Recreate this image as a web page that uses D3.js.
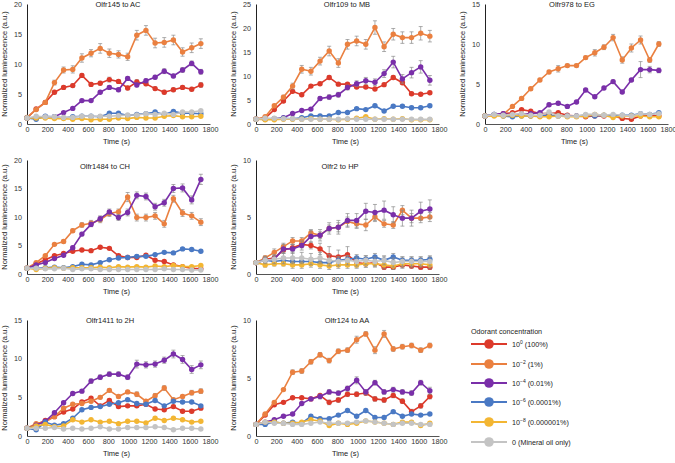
<!DOCTYPE html>
<html><head><meta charset="utf-8">
<script src="https://cdn.jsdelivr.net/npm/d3@7/dist/d3.min.js"></script>
<style>
html,body{margin:0;padding:0;background:#fff;}
svg{display:block;font-family:"Liberation Sans",Arial,Helvetica,sans-serif;}
</style></head>
<body>
<script>
// ---------- DATA ----------
const times = [0,90,180,270,360,450,540,630,720,810,900,990,1080,1170,1260,1350,1440,1530,1620,1710];
const xTickValues = [0,200,400,600,800,1000,1200,1400,1600,1800];
const panelTitles = ["Olfr145 to AC","Olfr109 to MB","Olfr978 to EG","Olfr1484 to CH","Olfr2 to HP","Olfr1411 to 2H","Olfr124 to AA"];
const panelYMax = [20,25,15,20,10,15,10];
const yTickStep = 5;
const seriesExp = ["0","\u22122","\u22124","\u22126","\u22128",null];
const seriesLabel = [" (100%)"," (1%)"," (0.01%)"," (0.0001%)"," (0.000001%)","0 (Mineral oil only)"];
const legendTitle = "Odorant concentration";
const xTitle = "Time (s)";
const yTitle = "Normalized luminescence (a.u.)";

// series order: 10^0, 10^-2, 10^-4, 10^-6, 10^-8, mineral oil
const acValues = [
 [1,2.5,3.6,5.3,6.1,6.4,8.1,6.6,6.8,7.4,7.1,6.0,7.0,6.7,5.9,5.3,5.7,6.1,5.8,6.5],
 [1.1,2.4,3.6,6.9,9.0,9.1,11.0,11.8,12.6,11.8,11.6,11.2,14.8,15.6,13.5,13.6,14.0,12.0,12.7,13.4],
 [1,1.0,1.2,1.2,1.9,2.6,3.9,3.9,5.3,6.1,5.7,7.6,6.5,7.2,7.8,8.8,8.0,9.0,10.1,8.7],
 [1,0.8,1.3,1.2,1.0,1.2,1.3,1.3,1.2,1.8,1.8,1.4,1.6,1.7,2.0,1.6,2.1,1.8,1.8,1.7],
 [1,1.0,1.0,0.9,0.9,0.8,0.9,0.7,0.8,0.8,1.0,0.9,1.1,1.0,1.0,1.3,1.4,1.2,1.2,1.3],
 [1,1.3,1.2,1.2,1.1,1.1,1.3,1.3,1.3,1.3,1.4,1.5,1.5,1.7,1.6,1.8,1.6,2.0,2.0,2.2]
];
const acErrors = [
 [0,0.2,0.2,0.3,0.3,0.3,0.3,0.3,0.3,0.4,0.3,0.3,0.4,0.3,0.3,0.3,0.3,0.3,0.3,0.4],
 [0,0.3,0.3,0.4,0.5,0.6,0.7,0.6,0.8,0.7,0.6,0.6,0.8,0.8,0.8,0.8,0.8,0.7,0.8,0.8],
 [0,0.1,0.1,0.1,0.2,0.2,0.2,0.2,0.2,0.3,0.3,0.3,0.3,0.3,0.3,0.4,0.3,0.4,0.4,0.4],
 [0,0.1,0.1,0.1,0.1,0.1,0.1,0.1,0.1,0.1,0.1,0.1,0.1,0.1,0.1,0.1,0.1,0.1,0.1,0.1],
 [0,0.1,0.1,0.1,0.1,0.1,0.1,0.1,0.1,0.1,0.1,0.1,0.1,0.1,0.1,0.1,0.1,0.1,0.1,0.1],
 [0,0.1,0.1,0.1,0.1,0.1,0.1,0.1,0.1,0.1,0.1,0.1,0.1,0.1,0.1,0.1,0.1,0.1,0.1,0.2]
];
const mbValues = [
 [1,1.2,3.0,4.8,6.8,6.1,7.9,8.4,9.7,8.3,8.3,7.7,7.7,7.3,8.2,9.7,8.6,6.3,6.2,6.5],
 [1,1.5,3.8,5.6,7.9,11.4,11.0,13.1,15.2,12.7,16.6,17.3,16.6,20.1,16.1,18.7,18.0,18.0,18.9,18.3],
 [1,1.0,1.1,1.3,2.2,2.8,3.1,5.3,5.6,6.1,7.6,8.4,9.0,8.7,10.5,12.9,9.4,10.7,11.9,9.1],
 [1,1.0,1.1,1.2,1.1,1.3,1.7,1.7,1.7,2.4,2.4,3.2,3.0,3.8,2.7,3.7,3.7,3.4,3.4,3.8],
 [1,0.9,0.9,1.0,1.0,1.0,1.1,1.0,1.0,0.9,1.0,1.2,1.5,1.0,1.1,1.0,1.1,0.9,0.9,0.9],
 [1,1.2,1.2,1.1,1.1,1.0,1.0,1.0,1.0,1.0,1.1,1.0,1.0,1.0,1.0,1.0,1.0,1.0,1.0,1.0]
];
const mbErrors = [
 [0,0.1,0.2,0.3,0.3,0.3,0.3,0.3,0.4,0.3,0.3,0.3,0.3,0.3,0.3,0.4,0.3,0.3,0.3,0.3],
 [0,0.2,0.3,0.4,0.6,0.8,0.8,0.8,1.0,0.9,1.0,1.0,1.0,1.4,1.0,1.2,1.2,1.2,1.4,1.2],
 [0,0.1,0.1,0.1,0.2,0.2,0.3,0.4,0.5,0.5,0.5,0.6,0.7,0.7,0.8,1.2,0.9,1.1,1.3,1.0],
 [0,0.1,0.1,0.1,0.1,0.1,0.1,0.1,0.2,0.2,0.2,0.2,0.2,0.3,0.2,0.3,0.3,0.3,0.3,0.3],
 [0,0.1,0.1,0.1,0.1,0.1,0.1,0.1,0.1,0.1,0.1,0.1,0.2,0.1,0.1,0.1,0.1,0.1,0.1,0.1],
 [0,0.1,0.1,0.1,0.1,0.1,0.1,0.1,0.1,0.1,0.1,0.1,0.1,0.1,0.1,0.1,0.1,0.1,0.1,0.1]
];
const egValues = [
 [1,1.1,1.3,1.4,1.8,1.6,1.3,1.3,1.4,1.1,1.0,0.9,1.0,1.0,1.0,0.7,0.6,1.0,1.1,1.0],
 [1,1.1,1.2,2.2,3.2,4.4,5.5,6.5,6.9,7.3,7.3,8.3,8.9,9.6,10.8,8.0,9.5,10.5,8.0,10.0],
 [1,1.2,1.3,1.1,1.2,1.3,1.4,2.4,2.6,2.2,2.75,4.25,3.4,4.5,5.3,4.0,5.5,6.8,6.8,6.7],
 [1,1.2,1.0,0.9,1.0,1.0,1.0,1.1,1.0,1.0,1.0,1.1,1.0,1.1,1.0,1.1,1.1,1.3,1.2,1.4],
 [1,1.0,1.0,1.1,1.0,1.0,0.9,0.9,1.0,0.9,0.9,1.0,1.2,1.1,0.8,1.0,1.0,1.0,0.9,0.9],
 [1,1.2,1.1,1.2,1.3,1.1,1.1,1.5,1.0,1.0,1.0,1.2,1.2,1.1,1.2,1.1,1.0,1.3,1.2,1.3]
];
const egErrors = [
 [0,0.1,0.1,0.1,0.1,0.1,0.1,0.1,0.1,0.1,0.1,0.1,0.1,0.1,0.1,0.1,0.1,0.1,0.1,0.1],
 [0,0.1,0.1,0.1,0.2,0.2,0.2,0.2,0.4,0.2,0.2,0.2,0.4,0.3,0.4,0.4,0.5,0.5,0.3,0.3],
 [0,0.1,0.1,0.1,0.1,0.1,0.1,0.2,0.2,0.2,0.2,0.2,0.2,0.2,0.2,0.2,0.2,1.0,0.4,0.3],
 [0,0.1,0.1,0.1,0.1,0.1,0.1,0.1,0.1,0.1,0.1,0.1,0.1,0.1,0.1,0.1,0.1,0.1,0.1,0.1],
 [0,0.1,0.1,0.1,0.1,0.1,0.1,0.1,0.1,0.1,0.1,0.1,0.1,0.1,0.1,0.1,0.1,0.1,0.1,0.1],
 [0,0.1,0.1,0.1,0.1,0.1,0.1,0.1,0.1,0.1,0.1,0.1,0.1,0.1,0.1,0.1,0.1,0.1,0.1,0.1]
];
const chValues = [
 [1,1.8,2.5,3.2,3.6,4.0,4.2,4.1,4.7,4.5,3.2,2.9,2.9,3.3,2.4,2.2,1.6,1.3,1.0,0.9],
 [1,2.0,3.2,5.2,5.7,7.6,8.6,8.9,9.5,10.6,10.9,13.5,9.9,9.9,10.2,8.8,13.2,10.7,10.2,9.1],
 [1,1.6,2.0,2.7,3.3,4.6,7.0,8.7,9.7,10.9,9.9,10.8,13.8,13.6,11.8,12.5,15.0,15.1,13.0,16.6],
 [1,1.0,1.1,1.2,1.1,1.3,1.7,1.6,2.0,2.5,2.8,2.9,3.1,3.1,3.4,3.8,3.7,4.4,4.3,4.0],
 [1,0.8,1.0,1.1,1.0,1.1,1.1,1.1,1.2,1.1,1.3,1.2,1.3,1.2,1.4,1.3,1.5,1.3,1.3,1.5],
 [1,1.0,0.9,0.9,1.0,0.8,0.9,0.9,0.8,0.8,0.8,0.8,0.8,0.8,0.8,0.9,0.8,0.8,0.7,0.7]
];
const chErrors = [
 [0,0.1,0.2,0.2,0.2,0.2,0.2,0.2,0.2,0.2,0.2,0.2,0.2,0.2,0.2,0.2,0.2,0.1,0.1,0.1],
 [0,0.2,0.2,0.2,0.3,0.3,0.4,0.5,0.5,0.5,0.5,0.8,0.6,0.6,0.6,0.6,0.6,0.6,0.6,0.6],
 [0,0.1,0.2,0.2,0.2,0.3,0.3,0.4,0.5,0.5,0.5,0.6,0.6,0.6,0.6,0.6,0.7,0.7,0.7,0.9],
 [0,0.1,0.1,0.1,0.1,0.1,0.1,0.1,0.1,0.2,0.2,0.2,0.2,0.2,0.2,0.2,0.2,0.2,0.2,0.2],
 [0,0.1,0.1,0.1,0.1,0.1,0.1,0.1,0.1,0.1,0.1,0.1,0.1,0.1,0.1,0.1,0.1,0.1,0.1,0.1],
 [0,0.1,0.1,0.1,0.1,0.1,0.1,0.1,0.1,0.1,0.1,0.1,0.1,0.1,0.1,0.1,0.1,0.1,0.1,0.1]
];
const hpValues = [
 [1,1.3,1.4,2.1,2.3,2.6,2.5,2.2,1.6,1.5,1.7,1.0,0.9,1.0,0.6,0.6,0.8,0.7,0.6,0.6],
 [1,1.4,1.9,2.4,2.9,2.9,3.6,3.4,4.0,4.1,4.6,4.4,4.3,5.0,4.4,4.3,5.6,4.9,4.9,5.0],
 [1,1.2,1.3,2.2,2.2,2.5,3.3,3.4,4.0,4.1,4.7,4.7,5.5,5.4,5.6,5.2,4.9,4.9,5.5,5.7],
 [1,1.2,1.1,1.2,1.1,1.1,1.1,1.0,1.0,1.2,1.3,1.4,1.3,1.5,1.2,1.5,1.2,1.2,1.2,1.3],
 [1,0.8,0.9,0.9,0.8,0.8,0.9,0.8,0.7,0.8,0.8,0.8,0.9,0.9,0.8,0.7,0.9,0.9,0.9,0.8],
 [1,1.2,1.3,1.4,1.4,1.4,1.3,1.4,1.2,1.1,1.2,1.1,1.2,1.1,1.2,1.0,1.1,1.1,1.1,1.1]
];
const hpErrors = [
 [0,0.2,0.2,0.3,0.3,0.3,0.3,0.5,0.8,0.6,0.7,0.4,0.3,0.3,0.2,0.2,0.3,0.2,0.2,0.2],
 [0,0.2,0.3,0.3,0.3,0.3,0.3,0.3,0.3,0.4,0.4,0.4,0.5,0.4,0.3,0.3,0.4,0.4,0.4,0.4],
 [0,0.2,0.2,0.4,0.4,0.4,0.5,0.5,0.5,0.6,0.6,0.6,0.7,0.7,0.8,0.7,0.7,0.7,0.8,0.8],
 [0,0.3,0.2,0.3,0.3,0.3,0.3,0.3,0.3,0.3,0.3,0.3,0.3,0.3,0.3,0.3,0.3,0.3,0.3,0.3],
 [0,0.2,0.2,0.2,0.3,0.3,0.3,0.3,0.3,0.3,0.3,0.3,0.3,0.3,0.3,0.3,0.3,0.3,0.3,0.3],
 [0,0.3,0.4,0.5,0.5,0.5,0.5,0.5,0.5,0.4,0.4,0.4,0.4,0.4,0.4,0.4,0.4,0.4,0.4,0.4]
];
const h2Values = [
 [1,1.5,2.0,2.5,3.1,3.5,4.4,4.9,3.9,4.6,3.8,3.9,3.9,4.1,3.5,3.4,3.8,3.2,3.2,3.6],
 [1,1.6,1.8,2.5,3.6,4.1,4.2,4.5,5.0,5.9,5.1,5.7,5.4,4.5,5.2,6.2,4.7,5.1,5.6,5.8],
 [1,1.4,1.9,3.0,4.3,5.5,5.8,7.1,7.6,8.0,8.0,7.6,9.3,9.2,9.3,9.8,10.6,9.9,8.6,9.2],
 [1,0.8,1.8,1.4,1.6,2.3,3.4,3.7,3.8,4.1,4.3,4.7,4.2,4.1,4.6,3.9,4.5,4.4,4.4,3.9],
 [1,1.3,1.5,1.2,1.3,2.1,1.8,2.1,1.8,1.9,1.6,1.9,1.9,1.7,2.3,2.0,2.3,2.1,1.8,1.9],
 [1,1.0,1.0,1.1,0.9,1.0,0.9,1.0,1.2,0.9,0.9,1.1,1.1,1.1,1.2,1.1,0.8,1.0,1.0,0.9]
];
const h2Errors = [
 [0,0.1,0.1,0.1,0.1,0.2,0.2,0.2,0.2,0.2,0.2,0.2,0.2,0.2,0.2,0.2,0.2,0.2,0.2,0.2],
 [0,0.1,0.1,0.1,0.2,0.2,0.2,0.2,0.2,0.2,0.2,0.2,0.3,0.2,0.3,0.3,0.2,0.2,0.3,0.3],
 [0,0.1,0.1,0.2,0.2,0.2,0.2,0.3,0.3,0.3,0.3,0.3,0.5,0.4,0.4,0.4,0.5,0.5,0.5,0.5],
 [0,0.1,0.1,0.1,0.1,0.1,0.1,0.1,0.1,0.1,0.1,0.1,0.1,0.1,0.1,0.1,0.1,0.1,0.1,0.1],
 [0,0.1,0.1,0.1,0.1,0.1,0.1,0.1,0.1,0.1,0.1,0.1,0.1,0.1,0.1,0.1,0.1,0.1,0.1,0.1],
 [0,0.1,0.1,0.1,0.1,0.1,0.1,0.1,0.1,0.1,0.1,0.1,0.1,0.1,0.1,0.1,0.1,0.1,0.1,0.1]
];
const aaValues = [
 [1,1.8,2.7,2.9,3.3,3.3,3.2,3.5,2.9,3.1,3.6,3.6,3.7,3.2,3.1,3.5,3.0,2.1,2.6,3.4],
 [1,1.9,2.9,4.0,5.5,5.6,6.4,7.0,6.5,7.3,7.4,8.3,8.8,7.4,8.8,7.5,7.7,7.8,7.4,7.8],
 [1,1.2,1.4,1.7,1.9,2.8,3.2,3.4,3.8,3.7,4.1,4.8,3.8,4.6,3.8,4.0,3.8,3.7,4.6,3.9],
 [1,1.0,1.2,1.1,1.2,1.1,1.7,1.5,1.5,1.8,2.2,1.7,2.2,1.6,1.6,2.1,1.7,1.9,1.8,1.9],
 [1,1.2,1.2,1.1,1.1,1.2,1.4,1.3,0.9,1.1,1.0,1.1,1.3,1.2,1.1,1.0,1.2,1.2,0.9,1.1],
 [1,1.2,1.1,1.1,1.0,1.0,1.1,1.2,1.1,1.1,1.1,1.2,1.3,1.2,1.1,1.0,1.1,1.1,1.0,1.0]
];
const aaErrors = [
 [0,0.1,0.1,0.1,0.1,0.1,0.1,0.1,0.2,0.2,0.2,0.2,0.2,0.2,0.2,0.2,0.2,0.2,0.2,0.2],
 [0,0.1,0.1,0.1,0.2,0.2,0.2,0.2,0.2,0.2,0.2,0.3,0.2,0.3,0.3,0.2,0.2,0.2,0.2,0.2],
 [0,0.1,0.1,0.1,0.1,0.1,0.1,0.2,0.2,0.2,0.2,0.3,0.2,0.2,0.2,0.2,0.2,0.2,0.2,0.3],
 [0,0.1,0.1,0.1,0.1,0.1,0.1,0.1,0.1,0.1,0.1,0.1,0.1,0.1,0.1,0.1,0.1,0.1,0.1,0.1],
 [0,0.1,0.1,0.1,0.1,0.1,0.1,0.1,0.1,0.1,0.1,0.1,0.1,0.1,0.1,0.1,0.1,0.1,0.1,0.1],
 [0,0.1,0.1,0.1,0.1,0.1,0.1,0.1,0.1,0.1,0.1,0.1,0.1,0.1,0.1,0.1,0.1,0.1,0.1,0.1]
];
const panelValues = [acValues, mbValues, egValues, chValues, hpValues, h2Values, aaValues];
const panelErrors = [acErrors, mbErrors, egErrors, chErrors, hpErrors, h2Errors, aaErrors];

// ---------- STYLE / LAYOUT ----------
const colors = ["#dc3a2b","#ea8040","#7a2fa9","#4a79c4","#f3b633","#c4c4c4"];
const W = 675, H = 463;
const colX = [27, 256, 485];      // x position of t=0
const xSpan = 183;                // pixels for 0..1800
const rowTop = [4, 160, 320];     // y of y-axis max
const rowZero = [124, 274, 436];  // y of 0
const panelPos = [[0,0],[1,0],[2,0],[0,1],[1,1],[0,2],[1,2]];
const titlePos = [[118,5],[347,5],[572,5],[105,167],[340,167],[110,321],[347,321]];

const svg = d3.select("body").append("svg").attr("width",W).attr("height",H);

panelTitles.forEach((title,i)=>{
  const [c,r] = panelPos[i];
  const x = d3.scaleLinear().domain([0,1800]).range([colX[c], colX[c]+xSpan]);
  const y = d3.scaleLinear().domain([0,panelYMax[i]]).range([rowZero[r], rowTop[r]]);
  const g = svg.append("g");

  const yTicks = d3.range(0, panelYMax[i]+0.001, yTickStep);
  const ya = g.append("g").attr("transform",`translate(${colX[c]},0)`)
    .call(d3.axisLeft(y).tickValues(yTicks).tickSize(0).tickPadding(5).tickFormat(d3.format("d")));
  ya.select(".domain").attr("stroke","#222").attr("stroke-width",1);
  ya.selectAll("text").attr("font-size",7.2).attr("fill","#333").attr("font-family","Liberation Sans, Arial");

  const xa = g.append("g").attr("transform",`translate(0,${rowZero[r]})`)
    .call(d3.axisBottom(x).tickValues(xTickValues).tickSize(0).tickPadding(3).tickFormat(d3.format("d")));
  xa.select(".domain").attr("stroke","#555").attr("stroke-width",1.2);
  xa.selectAll("text").attr("font-size",7.2).attr("fill","#333").attr("font-family","Liberation Sans, Arial");

  g.append("text").attr("x",titlePos[i][0]).attr("y",titlePos[i][1]).attr("text-anchor","middle")
    .attr("dominant-baseline","middle").attr("font-size",7.5).attr("fill","#222").text(title);
  g.append("text").attr("x",colX[c]+xSpan/2 - 2).attr("y",rowZero[r]+20)
    .attr("text-anchor","middle").attr("font-size",7.5).attr("fill","#222").text(xTitle);
  g.append("text").attr("transform",`translate(${colX[c]-20},${(rowZero[r]+rowTop[r])/2}) rotate(-90)`)
    .attr("text-anchor","middle").attr("font-size",7.5).attr("fill","#222").text(yTitle);

  const vals = panelValues[i], errs = panelErrors[i];
  const line = d3.line().x(d=>x(d.t)).y(d=>y(d.v));
  vals.forEach((series,s)=>{
    const pts = series.map((v,k)=>({t:times[k], v:v, e:errs[s][k]}));
    const sg = g.append("g");
    const eb = sg.selectAll("g.eb").data(pts.filter(p=>p.e>0)).join("g").attr("class","eb");
    eb.append("line").attr("x1",d=>x(d.t)).attr("x2",d=>x(d.t))
      .attr("y1",d=>y(d.v-d.e)).attr("y2",d=>y(d.v+d.e))
      .attr("stroke","#8a8a8a").attr("stroke-width",0.7);
    [1,-1].forEach(sign=>{
      eb.append("line")
        .attr("x1",d=>x(d.t)-2).attr("x2",d=>x(d.t)+2)
        .attr("y1",d=>y(d.v+sign*d.e)).attr("y2",d=>y(d.v+sign*d.e))
        .attr("stroke","#8a8a8a").attr("stroke-width",0.7);
    });
    sg.append("path").datum(pts).attr("d",line).attr("fill","none")
      .attr("stroke",colors[s]).attr("stroke-width",1.6);
    sg.selectAll("circle").data(pts).join("circle")
      .attr("cx",d=>x(d.t)).attr("cy",d=>y(d.v)).attr("r",2.7).attr("fill",colors[s]);
  });
});

// legend
const lg = svg.append("g");
lg.append("text").attr("x",471).attr("y",334).attr("font-size",7.2).attr("fill","#222").text(legendTitle);
const legY = [344,364,383,402,422,442];
seriesLabel.forEach((lab,s)=>{
  const yy = legY[s];
  lg.append("line").attr("x1",471).attr("x2",507).attr("y1",yy).attr("y2",yy)
    .attr("stroke",colors[s]).attr("stroke-width",2.2);
  lg.append("circle").attr("cx",489).attr("cy",yy).attr("r",4.8).attr("fill",colors[s]);
  const t = lg.append("text").attr("x",512).attr("y",yy+2.5).attr("font-size",7.2).attr("fill","#222");
  if(seriesExp[s]!==null){
    t.append("tspan").text("10");
    t.append("tspan").attr("dy",-3).attr("font-size",5).text(seriesExp[s]);
    t.append("tspan").attr("dy",3).text(lab);
  } else {
    t.text(lab);
  }
});
</script>
</body></html>
